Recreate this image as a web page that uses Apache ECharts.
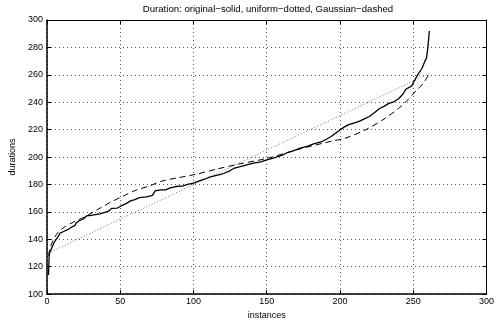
<!DOCTYPE html>
<html>
<head>
<meta charset="utf-8">
<script src="https://cdn.jsdelivr.net/npm/echarts@6/dist/echarts.min.js"></script>
<style>html,body{margin:0;padding:0;background:#fff}#c{width:497px;height:325px}</style>
</head>
<body>
<div id="c"></div>
<script>
var titleText = 'Duration: original\u2212solid, uniform\u2212dotted, Gaussian\u2212dashed';
var xTicks = [0, 50, 100, 150, 200, 250, 300];
var yTicks = [100, 120, 140, 160, 180, 200, 220, 240, 260, 280, 300];

var origX = [1, 1.5, 2, 3, 5, 7, 9, 11, 14, 17, 19, 20, 22, 25, 27, 30, 33, 36, 39, 42, 44, 48, 51, 54, 57, 60, 63, 68, 72, 74, 78, 81, 84, 88, 93, 96, 100, 104, 108, 111, 115, 120, 124, 128, 132, 137, 141, 146, 150, 154, 157, 161, 164, 168, 173, 178, 182, 187, 191, 194, 196, 199, 203, 206, 210, 213, 217, 220, 223, 227, 230, 233, 237, 240, 243, 245, 249, 251, 253, 256, 258, 259, 260, 261];
var origY = [114, 128, 131, 133, 138, 141, 144.5, 145.5, 147, 149, 150, 152, 153.5, 155, 157, 157.5, 158, 158.5, 159.5, 160.5, 162.5, 162.8, 164.5, 166, 168, 169, 170.4, 171, 172, 175.5, 176, 176, 177.5, 178.5, 179, 180, 181, 182.6, 184, 185.4, 186.5, 187.8, 189.5, 192, 193, 194.5, 195.6, 196.5, 197.9, 199, 200.2, 201.5, 203.3, 204.5, 206.5, 208, 209.6, 211, 213.2, 215, 216.7, 219, 222, 223.7, 225, 226, 228, 229.6, 232, 235.4, 237, 239, 240.5, 242.5, 246, 249.5, 251.9, 256, 260, 264.8, 270, 272, 280, 292];

var unifX = [1, 261];
var unifY = [130, 261];

var gaussX = [1, 2, 4, 7.5, 12, 18, 26, 35, 44, 52, 60, 70, 79, 90, 102, 115, 131, 150, 173, 196, 203, 218, 231, 242.5, 252, 257, 261];
var gaussY = [128, 133, 139, 145, 149, 152.5, 156.5, 162, 167.4, 171.5, 175.5, 179, 182.6, 185, 187.5, 191, 194.9, 199, 206, 212, 213.5, 220.2, 228.4, 237.8, 248.4, 254, 261];

function pairs(xs, ys) { return xs.map(function (x, i) { return [x, ys[i]]; }); }

var font = 'Liberation Sans, Arial, Helvetica, sans-serif';
var axisCommon = {
  type: 'value',
  axisLine: { show: true, onZero: false, lineStyle: { color: '#000', width: 1 } },
  axisTick: { show: true, inside: true, length: 4, lineStyle: { color: '#000' } },
  axisLabel: { color: '#000', fontSize: 9, fontFamily: font },
  splitLine: { show: false }
};

var chart = echarts.init(document.getElementById('c'), null, { renderer: 'canvas' });
chart.setOption({
  animation: false,
  backgroundColor: '#fff',
  title: {
    text: titleText, left: 268, top: 4, textAlign: 'center', padding: 0,
    textStyle: { fontSize: 9.6, fontWeight: 'normal', color: '#000', fontFamily: font }
  },
  grid: { left: 47, right: 9, top: 20, bottom: 21, containLabel: false },
  xAxis: [
    Object.assign({}, axisCommon, {
      min: xTicks[0], max: xTicks[xTicks.length - 1], interval: 50, position: 'bottom',
      name: 'instances', nameLocation: 'middle', nameGap: 10,
      nameTextStyle: { fontSize: 9, color: '#000', fontFamily: font },
      axisLine: { show: true, onZero: false, lineStyle: { color: '#000', width: 1.5 } },
      axisLabel: { color: '#000', fontSize: 9, fontFamily: font, margin: 3 },
      splitLine: { show: true, lineStyle: { color: '#555', type: [1, 3], width: 1 } }
    }),
    Object.assign({}, axisCommon, {
      min: xTicks[0], max: xTicks[xTicks.length - 1], interval: 50, position: 'top',
      axisLabel: { show: false }
    })
  ],
  yAxis: [
    Object.assign({}, axisCommon, {
      min: yTicks[0], max: yTicks[yTicks.length - 1], interval: 20, position: 'left',
      name: 'durations', nameLocation: 'middle', nameGap: 19,
      nameTextStyle: { fontSize: 9, color: '#000', fontFamily: font },
      axisLine: { show: true, onZero: false, lineStyle: { color: '#000', width: 1.5 } },
      axisLabel: { color: '#000', fontSize: 9, fontFamily: font, margin: 4 },
      splitLine: { show: true, lineStyle: { color: '#555', type: [1, 3], width: 1 } }
    }),
    Object.assign({}, axisCommon, {
      min: yTicks[0], max: yTicks[yTicks.length - 1], interval: 20, position: 'right',
      axisLabel: { show: false }
    })
  ],
  series: [
    {
      name: 'original', type: 'line', data: pairs(origX, origY), showSymbol: false, symbol: 'none',
      lineStyle: { color: '#000', width: 1.3 }, z: 5
    },
    {
      name: 'uniform', type: 'line', data: pairs(unifX, unifY), showSymbol: false, symbol: 'none',
      lineStyle: { color: '#777', width: 1, type: [1, 2] }, z: 3
    },
    {
      name: 'Gaussian', type: 'line', data: pairs(gaussX, gaussY), showSymbol: false, symbol: 'none', smooth: 0.3,
      lineStyle: { color: '#000', width: 1, type: [6, 4] }, z: 4
    }
  ]
});
</script>
</body>
</html>
